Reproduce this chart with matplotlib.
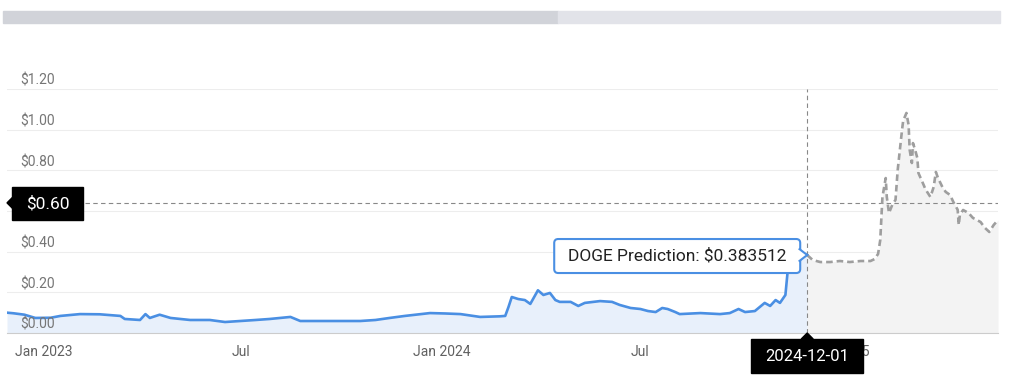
import matplotlib.pyplot as plt
import numpy as np
from matplotlib.patches import Rectangle, FancyBboxPatch, Polygon

plt.rcParams['font.family'] = ['Roboto', 'DejaVu Sans']

# days counted from 2023-01-01
start = np.datetime64('2023-01-01')
hist_days = [-34, -28, -18, -8, 6, 15, 33, 51, 70, 74, 88, 93, 97, 106, 116, 134,
             152, 166, 180, 194, 207, 226, 235, 262, 290, 304, 317, 331, 354, 368,
             382, 400, 418, 423, 426, 429, 435, 441, 446, 453, 458, 464, 469, 473,
             483, 490, 496, 510, 521, 528, 538, 547, 554, 561, 567, 572, 579, 583,
             602, 620, 629, 637, 643, 652, 661, 666, 671, 675, 680, 682, 684, 690, 700]
hist_price = [0.100, 0.097, 0.090, 0.074, 0.075, 0.084, 0.093, 0.092, 0.084, 0.069,
              0.064, 0.093, 0.074, 0.090, 0.074, 0.064, 0.064, 0.054, 0.059, 0.064,
              0.069, 0.079, 0.059, 0.059, 0.059, 0.064, 0.074, 0.084, 0.098, 0.096,
              0.093, 0.079, 0.082, 0.084, 0.128, 0.177, 0.167, 0.162, 0.143, 0.210,
              0.187, 0.197, 0.162, 0.153, 0.153, 0.133, 0.148, 0.157, 0.153, 0.138,
              0.123, 0.118, 0.108, 0.103, 0.123, 0.118, 0.103, 0.093, 0.098, 0.093,
              0.098, 0.118, 0.103, 0.108, 0.148, 0.133, 0.162, 0.148, 0.187, 0.300,
              0.370, 0.400, 0.3835]
pred_days = [700, 705, 712, 721, 730, 739, 749, 758, 762, 765, 767, 769, 772, 773,
             775, 778, 781, 783, 787, 788, 791, 793, 794, 796, 797, 799, 801, 802,
             806, 808, 810, 813, 816, 818, 820, 824, 827, 831, 834, 838, 839, 840,
             843, 848, 852, 859, 863, 867, 871, 875]
pred_price = [0.3835, 0.359, 0.349, 0.349, 0.354, 0.349, 0.354, 0.354, 0.364, 0.389,
              0.457, 0.669, 0.762, 0.669, 0.590, 0.630, 0.655, 0.802, 1.000, 1.043,
              1.082, 1.023, 0.900, 0.836, 0.934, 0.900, 0.861, 0.787, 0.738, 0.713,
              0.694, 0.669, 0.718, 0.792, 0.762, 0.718, 0.694, 0.679, 0.645, 0.606,
              0.531, 0.580, 0.605, 0.590, 0.566, 0.546, 0.517, 0.497, 0.531, 0.556]

y_ticks = [0.0, 0.2, 0.4, 0.6, 0.8, 1.0, 1.2]
x_tick_dates = ['2023-01-01', '2023-07-01', '2024-01-01', '2024-07-01', '2025-01-01']
x_tick_labels = ['Jan 2023', 'Jul', 'Jan 2024', 'Jul', 'Jan 2025']
cursor_date = np.datetime64('2024-12-01')
cursor_price = 0.64
cursor_label = '$0.60'
tooltip_value = 0.383512
tooltip_text = 'DOGE Prediction: $0.383512'

hist_x = start + np.array(hist_days).astype('timedelta64[D]')
pred_x = start + np.array(pred_days).astype('timedelta64[D]')

W, H = 1024, 390
fig = plt.figure(figsize=(W / 100, H / 100), dpi=100)
ax = fig.add_axes([7 / W, 1 - 333 / H, 991 / W, 244 / H])

ax.fill_between(hist_x, hist_price, color='#e8f0fb', lw=0, zorder=1)
ax.plot(hist_x, hist_price, color='#4a8fe3', lw=1.9, zorder=3)
ax.fill_between(pred_x, pred_price, color='#f3f3f3', lw=0, zorder=1)
ax.plot(pred_x, pred_price, color='#9e9e9e', lw=1.9, ls=(0, (2.5, 1.5)), zorder=3)

ax.set_ylim(0, 1.2)
ax.set_xlim(start - np.timedelta64(34, 'D'), start + np.timedelta64(875, 'D'))

# gridlines and $ labels sitting above them
for v in y_ticks:
    ax.axhline(v, color='#ededed', lw=0.8, zorder=0)
    ax.annotate('$%.2f' % v, xy=(0, v), xycoords=('axes fraction', 'data'),
                xytext=(13, 8), textcoords='offset pixels', va='center', ha='left',
                fontsize=10, color='#757575', zorder=4)

for s in ['top', 'right', 'left']:
    ax.spines[s].set_visible(False)
ax.spines['bottom'].set_color('#cccccc')
ax.set_yticks([])
ax.set_xticks([np.datetime64(d) for d in x_tick_dates])
ax.set_xticklabels(x_tick_labels, fontsize=10, color='#616161')
ax.tick_params(axis='x', length=0, pad=9)

# crosshair
ax.axvline(cursor_date, color='#888888', lw=0.8, ls=(0, (4, 3)), zorder=2)
ax.axhline(cursor_price, xmin=78 / 991, color='#888888', lw=0.8, ls=(0, (4, 3)), zorder=2)

# overlay in pixel coords for the scrollbar and tooltips
ov = fig.add_axes([0, 0, 1, 1], zorder=5)
ov.set_xlim(0, W)
ov.set_ylim(H, 0)
ov.axis('off')
ov.patch.set_alpha(0)

ov.add_patch(Rectangle((3, 11), 555, 12, color='#d1d3d9'))
ov.add_patch(Rectangle((558, 11), 442, 12, color='#e2e3e9'))

def to_px(x, y):
    px = ax.transData.transform((ax.convert_xunits(x), y))
    return px[0], H - px[1]

# y cursor label (covers the $0.60 axis label, as in the original)
_, yc = to_px(cursor_date, cursor_price)
ov.add_patch(Polygon([(7, yc), (12.5, yc - 5.5), (12.5, yc + 5.5)], color='black'))
ov.add_patch(Rectangle((12, yc - 16), 71, 33, color='black'))
ov.text(47.5, yc + 0.5, cursor_label, color='white', fontsize=12.5, ha='center', va='center')

# date label (covers the Jan 2025 tick label)
xc, yb = to_px(cursor_date, 0)
ov.add_patch(Polygon([(xc, yb), (xc - 6, yb + 6), (xc + 6, yb + 6)], color='black'))
ov.add_patch(Rectangle((xc - 56, yb + 6), 112, 34, color='black'))
ov.text(xc, yb + 23.5, str(cursor_date), color='white', fontsize=12, ha='center', va='center')

# value tooltip
tx, ty = to_px(cursor_date, tooltip_value)
blue = '#4a8fe3'
ov.add_patch(FancyBboxPatch((tx - 253, ty - 16), 246, 34,
                            boxstyle='round,pad=0,rounding_size=4',
                            facecolor='white', edgecolor=blue, lw=1.5))
ov.add_patch(Polygon([(tx - 8.5, ty - 6.5), (tx, ty), (tx - 8.5, ty + 6.5)], closed=False,
                     facecolor='white', edgecolor=blue, lw=1.5))
ov.text(tx - 130, ty + 1, tooltip_text, color='#212121', fontsize=12.5, ha='center', va='center')

fig.savefig('out.png', dpi=100)
